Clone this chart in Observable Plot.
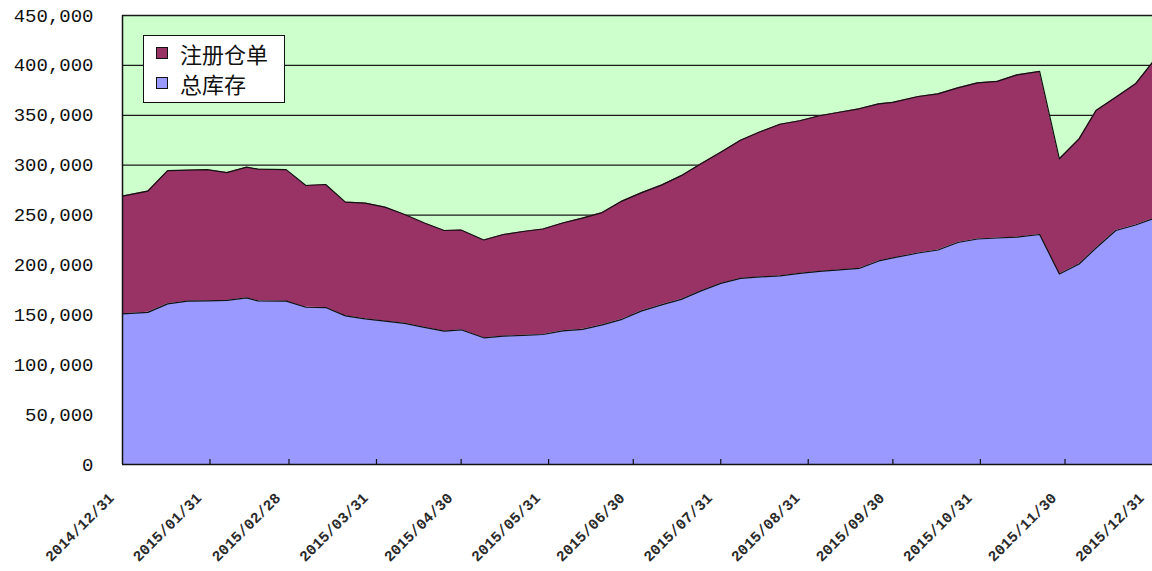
<!DOCTYPE html>
<html>
<head>
<meta charset="utf-8">
<script src="https://cdn.jsdelivr.net/npm/d3@7"></script>
<script src="https://cdn.jsdelivr.net/npm/@observablehq/plot@0.6"></script>
<style>
  html, body { margin: 0; padding: 0; background: #fff; }
  #wrap { position: relative; width: 1152px; height: 571px; overflow: hidden; }
  #legend {
    position: absolute; left: 143px; top: 35px; width: 142px; height: 68px;
    box-sizing: border-box; border: 1.5px solid #111; background: #fff;
    font-family: "Noto Sans CJK SC", sans-serif; font-size: 22px; color: #111;
    padding-top: 2px;
  }
  #legend .row { display: flex; align-items: center; height: 30px; }
  #legend .sw { width: 12px; height: 12px; border: 1px solid #111; margin-left: 12px; box-sizing: border-box; }
  #legend .lb { margin-left: 12px; line-height: 30px; }
</style>
</head>
<body>
<div id="wrap"><div id="legend"></div></div>
<script>
// ---- data (weekly) ----
const dates = [
  "2014-12-31","2015-01-09","2015-01-16","2015-01-23","2015-01-30","2015-02-06","2015-02-13","2015-02-17",
  "2015-02-27","2015-03-06","2015-03-13","2015-03-20","2015-03-27","2015-04-03","2015-04-10","2015-04-17",
  "2015-04-24","2015-04-30","2015-05-08","2015-05-15","2015-05-22","2015-05-29","2015-06-05","2015-06-12",
  "2015-06-19","2015-06-26","2015-07-03","2015-07-10","2015-07-17","2015-07-24","2015-07-31","2015-08-07",
  "2015-08-14","2015-08-21","2015-08-28","2015-09-04","2015-09-11","2015-09-18","2015-09-25","2015-09-30",
  "2015-10-09","2015-10-16","2015-10-23","2015-10-30","2015-11-06","2015-11-13","2015-11-21","2015-11-28",
  "2015-12-05","2015-12-11","2015-12-18","2015-12-25","2015-12-31"
];
// 总库存 (bottom layer)
const totalStock = [
  151000,152500,161000,163700,164000,164400,167000,164000,
  163700,157600,157300,149000,146000,143600,141500,137500,
  133600,135000,127000,128600,129500,130300,134000,135500,
  140000,145500,154000,160000,165500,174000,181500,186500,
  188000,189000,191500,193500,195000,196500,204000,207000,
  212000,215000,222500,226000,227000,227800,230500,191000,
  201000,217000,234500,240000,246000
];
// 注册仓单 (stacked on top)
const warrants = [
  118000,121500,133500,131300,131500,128200,131000,132000,
  131800,122000,123300,114000,116000,114400,109000,104500,
  100900,100000,98000,101900,104000,105700,108000,111500,
  112500,118500,118500,120000,124000,127500,131500,138500,
  145500,152000,153000,156000,158000,160000,157500,156000,
  156800,156500,155000,156500,157000,162700,163500,115400,
  125400,137800,133500,141500,157000
];
const seriesNames = ["注册仓单", "总库存"];
const seriesColors = ["#993366", "#9999FF"];
const yTicks = [0, 50000, 100000, 150000, 200000, 250000, 300000, 350000, 400000, 450000];
const xTickLabels = [
  "2014/12/31","2015/01/31","2015/02/28","2015/03/31","2015/04/30","2015/05/31","2015/06/30",
  "2015/07/31","2015/08/31","2015/09/30","2015/10/31","2015/11/30","2015/12/31"
];

// ---- build tidy table ----
const parse = d3.utcParse("%Y-%m-%d");
const parseTick = d3.utcParse("%Y/%m/%d");
const fmtTick = d3.utcFormat("%Y/%m/%d");
const tidy = [];
dates.forEach((d, i) => {
  const date = parse(d);
  tidy.push({date, series: seriesNames[1], value: totalStock[i]});
  tidy.push({date, series: seriesNames[0], value: warrants[i]});
});
const xTicks = xTickLabels.map(parseTick);
const stackOrder = [seriesNames[1], seriesNames[0]];
const monoFont = "'Liberation Mono', 'DejaVu Sans Mono', monospace";

const W = 1152, H = 571, mTop = 15, mBottom = 107, tickLen = 5;
const plotH = H - mTop - mBottom;

const chart = Plot.plot({
  width: W,
  height: H,
  marginLeft: 122,
  marginRight: 0,
  marginTop: mTop,
  marginBottom: mBottom,
  x: {type: "utc", domain: [xTicks[0], xTicks[xTicks.length - 1]]},
  y: {domain: [0, 450000]},
  color: {domain: seriesNames, range: seriesColors},
  marks: [
    Plot.frame({fill: "#CCFFCC", stroke: null}),
    Plot.ruleY(yTicks.slice(1), {stroke: "#1a1a1a", strokeWidth: 1.3}),
    Plot.areaY(tidy, {x: "date", y: "value", z: "series", fill: "series", order: stackOrder}),
    Plot.lineY(tidy, Plot.stackY2({x: "date", y: "value", z: "series", order: stackOrder, stroke: "#111", strokeWidth: 1.2})),
    Plot.ruleY([0], {stroke: "#111", strokeWidth: 1.5}),
    Plot.ruleX([xTicks[0]], {stroke: "#111", strokeWidth: 1.5}),
    Plot.ruleX(xTicks.slice(1, -1), {stroke: "#111", strokeWidth: 1.2, insetTop: plotH - tickLen}),
    Plot.axisY({ticks: yTicks, tickFormat: d3.format(","), tickSize: 0, tickPadding: 29, label: null,
      fontSize: 19, fontFamily: monoFont, fill: "#111"}),
    Plot.axisX({ticks: xTicks, tickFormat: fmtTick, tickSize: 0, tickRotate: -45, tickPadding: 31, dx: -11, label: null,
      fontSize: 15, fontFamily: monoFont, fontWeight: "bold", fill: "#2a2a2a"})
  ]
});
document.getElementById("wrap").prepend(chart);

// ---- legend ----
const legend = document.getElementById("legend");
seriesNames.forEach((name, i) => {
  const row = document.createElement("div");
  row.className = "row";
  const sw = document.createElement("div");
  sw.className = "sw";
  sw.style.background = seriesColors[i];
  const lb = document.createElement("span");
  lb.className = "lb";
  lb.textContent = name;
  row.append(sw, lb);
  legend.append(row);
});
</script>
</body>
</html>
